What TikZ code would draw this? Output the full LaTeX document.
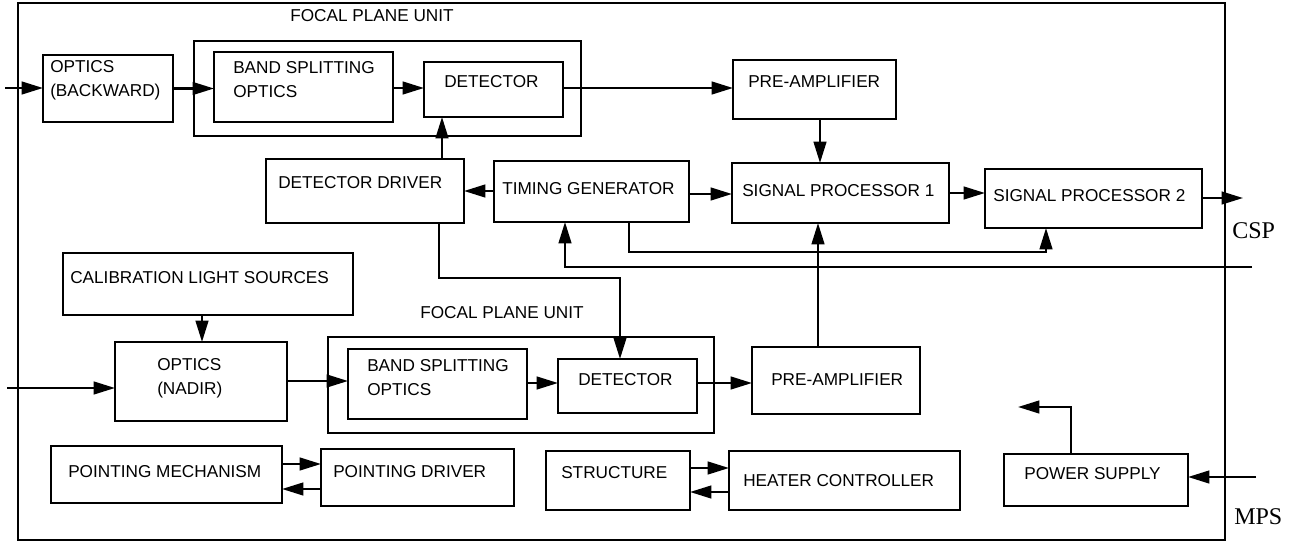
\documentclass[tikz,border=0pt]{standalone}
\usepackage{fontspec}
\setmainfont{Liberation Sans}
\newfontfamily\tmsfont{Liberation Serif}
\usetikzlibrary{arrows.meta}

\tikzset{
  box/.style={draw, line width=2pt, inner sep=0pt, outer sep=0pt},
  lbl/.style={anchor=west, align=left, inner sep=0pt,
              font=\fontsize{12.9}{18}\selectfont},
  port/.style={anchor=west, inner sep=0pt, font=\tmsfont\fontsize{18}{20}\selectfont},
  conn/.style={line width=1.7pt, -{Triangle[length=16pt,width=9.5pt]}},
  wire/.style={line width=1.7pt}
}

% block given by its corners (x1,y1) and (x2,y2), in pixel units
\newcommand\blk[5]{\node[box,minimum width={(#4-#2)*0.75pt},
  minimum height={(#5-#3)*0.75pt}] (#1) at ({(#2+#4)/2},{(#3+#5)/2}) {};}

\begin{document}
\begin{tikzpicture}[x=0.75pt,y=-0.75pt]
\useasboundingbox (0,0) rectangle (1303,542);

% instrument enclosure
\blk{frame}{18}{3}{1225}{540}

% backward-looking chain
\blk{fpua}{194}{41}{581}{136}
\blk{optb}{43}{55}{173}{122}
\blk{bsoa}{214}{52}{393}{122}
\blk{deta}{424}{62}{563}{117}
\blk{prea}{733}{60}{896}{119}

% electronics
\blk{dd}{266}{159}{464}{223}
\blk{tg}{494}{161}{689}{222}
\blk{spa}{732}{163}{949}{223}
\blk{spb}{985}{169}{1202}{228}

% nadir chain
\blk{cal}{63}{253}{353}{315}
\blk{optn}{115}{342}{287}{421}
\blk{fpub}{328}{337}{714}{433}
\blk{bsob}{348}{349}{527}{419}
\blk{detb}{558}{359}{697}{413}
\blk{preb}{752}{347}{920}{414}

% housekeeping
\blk{pm}{51}{446}{282}{503}
\blk{pd}{321}{449}{514}{506}
\blk{st}{546}{451}{690}{510}
\blk{hc}{729}{451}{960}{510}
\blk{ps}{1004}{454}{1188}{506}

% labels
\node[lbl] (fpua-t) at (290,16) {FOCAL PLANE UNIT};
\node[lbl] (optb-t) at (50,80) {OPTICS\\(BACKWARD)};
\node[lbl] (bsoa-t) at (233,80) {BAND SPLITTING\\OPTICS};
\node[lbl] (deta-t) at (444,82) {DETECTOR};
\node[lbl] (prea-t) at (748,82) {PRE-AMPLIFIER};
\node[lbl] (dd-t) at (278,183) {DETECTOR DRIVER};
\node[lbl] (tg-t) at (502,189) {TIMING GENERATOR};
\node[lbl] (spa-t) at (742,191) {SIGNAL PROCESSOR 1};
\node[lbl] (spb-t) at (993,196) {SIGNAL PROCESSOR 2};
\node[lbl] (cal-t) at (70,278) {CALIBRATION LIGHT SOURCES};
\node[lbl] (optn-t) at (157,378) {OPTICS\\(NADIR)};
\node[lbl] (fpub-t) at (420,313) {FOCAL PLANE UNIT};
\node[lbl] (bsob-t) at (367,378) {BAND SPLITTING\\OPTICS};
\node[lbl] (detb-t) at (578,380) {DETECTOR};
\node[lbl] (preb-t) at (771,380) {PRE-AMPLIFIER};
\node[lbl] (pm-t) at (68,472) {POINTING MECHANISM};
\node[lbl] (pd-t) at (333,472) {POINTING DRIVER};
\node[lbl] (st-t) at (561,473) {STRUCTURE};
\node[lbl] (hc-t) at (743,481) {HEATER CONTROLLER};
\node[lbl] (ps-t) at (1024,474) {POWER SUPPLY};
\node[port] (csp) at (1232,231) {CSP};
\node[port] (mps) at (1234,517) {MPS};

% external connection points
\coordinate (inb) at (5,88);
\coordinate (inn) at (7,388);
\coordinate (outc) at (1243,198);
\coordinate (busr) at (1252,267);
\coordinate (pwin) at (1256,477);
\coordinate (pwout) at (1018,407);

% backward chain signal path
\draw[conn] (inb) -- (inb -| optb.west);
\draw[conn] (optb.east) -- (optb.east -| bsoa.west);
\draw[conn] (bsoa.east |- 0,88) -- (deta.west |- 0,88);
\draw[conn] (deta.east |- 0,88) -- (prea.west |- 0,88);
\draw[conn] (820,0 |- prea.south) -- (820,0 |- spa.north);
\draw[conn] (442,0 |- dd.north) -- (442,0 |- deta.south);

% timing and processing
\draw[conn] (tg.west |- 0,191) -- (dd.east |- 0,191);
\draw[conn] (tg.east |- 0,194) -- (spa.west |- 0,194);
\draw[conn] (spa.east |- 0,193) -- (spb.west |- 0,193);
\draw[conn] (spb.east |- outc) -- (outc);
\draw[conn] (busr) -- (565,267) -- (565,0 |- tg.south);
\draw[conn] (629,0 |- tg.south) -- (629,252) -- (1046,252) -- (1046,0 |- spb.south);
\draw[conn] (439,0 |- dd.south) -- (439,278) -- (620,278) -- (620,0 |- detb.north);
\draw[conn] (818,0 |- preb.north) -- (818,0 |- spa.south);

% nadir chain signal path
\draw[conn] (202,0 |- cal.south) -- (202,0 |- optn.north);
\draw[conn] (inn) -- (inn -| optn.west);
\draw[conn] (optn.east |- 0,381) -- (bsob.west |- 0,381);
\draw[conn] (bsob.east |- 0,383) -- (detb.west |- 0,383);
\draw[conn] (detb.east |- 0,383) -- (preb.west |- 0,383);

% housekeeping links
\draw[conn] (pm.east |- 0,464) -- (pd.west |- 0,464);
\draw[conn] (pd.west |- 0,489) -- (pm.east |- 0,489);
\draw[conn] (st.east |- 0,468) -- (hc.west |- 0,468);
\draw[conn] (hc.west |- 0,492) -- (st.east |- 0,492);
\draw[conn] (pwin) -- (pwin -| ps.east);
\draw[conn] (1071,0 |- ps.north) -- (1071,407) -- (pwout);
\end{tikzpicture}
\end{document}
